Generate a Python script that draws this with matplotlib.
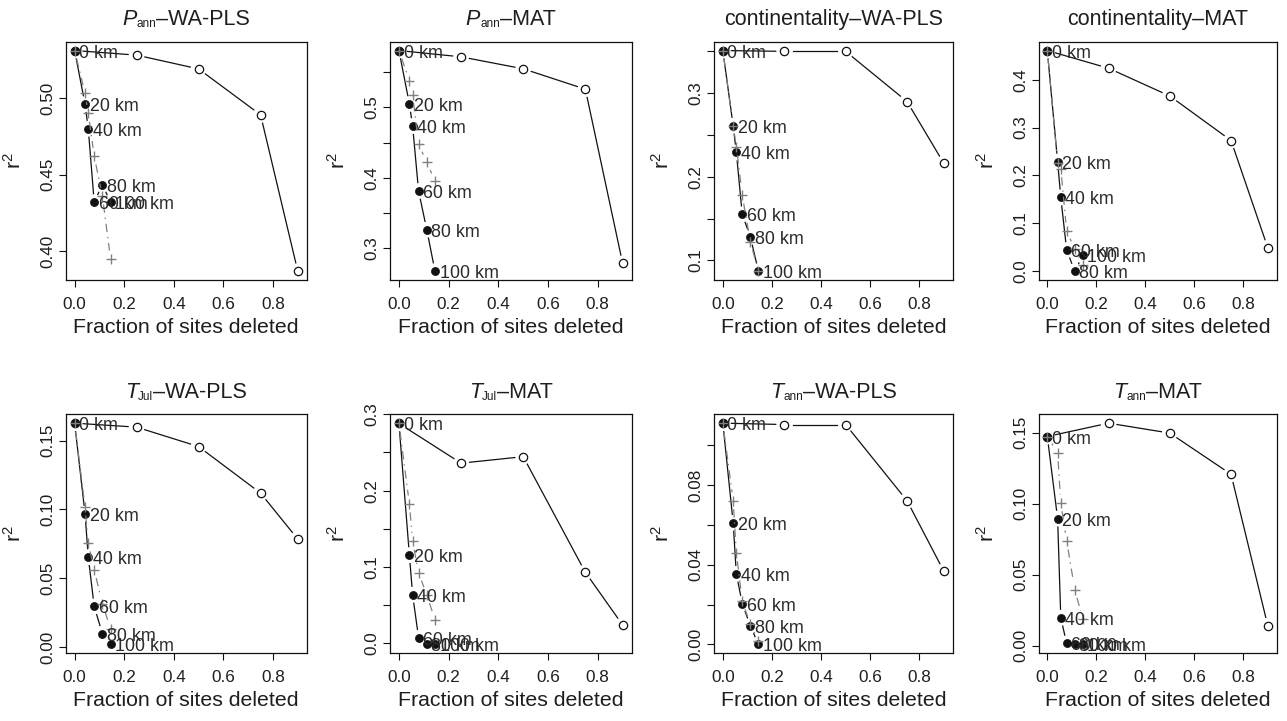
import numpy as np
import matplotlib
matplotlib.use("Agg")
import matplotlib.pyplot as plt

plt.rcParams['font.family'] = ['Liberation Sans', 'DejaVu Sans']
plt.rcParams['mathtext.fontset'] = 'custom'
plt.rcParams['mathtext.rm'] = 'Liberation Sans'
plt.rcParams['mathtext.it'] = 'Liberation Sans:italic'
plt.rcParams['lines.scale_dashes'] = False

# ---------------- data ----------------
fractions_random = [0.0, 0.25, 0.5, 0.75, 0.9]
fractions_dist = [0.0, 0.042, 0.055, 0.079, 0.112, 0.145]
dist_labels = ["0 km", "20 km", "40 km", "60 km", "80 km", "100 km"]

# titles: (italic variable, subscript, rest)
title_var = ["P", "P", "", "", "T", "T", "T", "T"]
title_sub = ["ann", "ann", "", "", "Jul", "Jul", "ann", "ann"]
title_rest = ["–WA-PLS", "–MAT", "continentality–WA-PLS", "continentality–MAT",
              "–WA-PLS", "–MAT", "–WA-PLS", "–MAT"]

r2_random = [
    [0.531, 0.528, 0.519, 0.489, 0.387],
    [0.581, 0.572, 0.555, 0.526, 0.278],
    [0.351, 0.350, 0.350, 0.290, 0.216],
    [0.461, 0.424, 0.366, 0.273, 0.049],
    [0.1626, 0.1597, 0.1456, 0.1118, 0.0784],
    [0.288, 0.236, 0.2445, 0.093, 0.024],
    [0.111, 0.1103, 0.1103, 0.0721, 0.0367],
    [0.1474, 0.1568, 0.1498, 0.1208, 0.0142],
]

r2_geographic = [
    [0.531, 0.496, 0.480, 0.432, 0.4435, 0.432],
    [0.581, 0.505, 0.4735, 0.381, 0.326, 0.267],
    [0.351, 0.261, 0.229, 0.155, 0.128, 0.087],
    [0.461, 0.229, 0.154, 0.044, 0.0, 0.033],
    [0.1626, 0.0968, 0.0653, 0.0295, 0.0097, 0.0019],
    [0.288, 0.1155, 0.0636, 0.0073, -0.001, -0.0015],
    [0.111, 0.061, 0.0354, 0.0205, 0.0093, 0.0],
    [0.1474, 0.0896, 0.0198, 0.0017, 0.001, 0.0015],
]

r2_environmental = [
    [0.531, 0.503, 0.490, 0.462, 0.436, 0.395],
    [0.581, 0.538, 0.518, 0.448, 0.422, 0.395],
    [0.351, 0.261, 0.236, 0.178, 0.122, 0.087],
    [0.461, 0.226, 0.214, 0.084, 0.046, 0.013],
    [0.1626, 0.1016, 0.0755, 0.0561, 0.0314, 0.0133],
    [0.288, 0.1826, 0.1335, 0.0925, 0.063, 0.031],
    [0.111, 0.0721, 0.046, 0.0216, 0.0101, 0.0017],
    [0.1474, 0.136, 0.1007, 0.0738, 0.0396, 0.0189],
]

x_ticks = [0.0, 0.2, 0.4, 0.6, 0.8]
x_ticklabels = ["0.0", "0.2", "0.4", "0.6", "0.8"]

y_ticks = [
    [0.40, 0.45, 0.50],
    [0.30, 0.35, 0.40, 0.45, 0.50, 0.55],
    [0.10, 0.15, 0.20, 0.25, 0.30, 0.35],
    [0.0, 0.1, 0.2, 0.3, 0.4],
    [0.00, 0.05, 0.10, 0.15],
    [0.0, 0.05, 0.1, 0.15, 0.2, 0.25, 0.3],
    [0.00, 0.02, 0.04, 0.06, 0.08, 0.10],
    [0.00, 0.05, 0.10, 0.15],
]
y_ticklabels = [
    ["0.40", "0.45", "0.50"],
    ["0.3", "", "0.4", "", "0.5", ""],
    ["0.1", "", "0.2", "", "0.3", ""],
    ["0.0", "0.1", "0.2", "0.3", "0.4"],
    ["0.00", "0.05", "0.10", "0.15"],
    ["0.0", "", "0.1", "", "0.2", "", "0.3"],
    ["0.00", "", "0.04", "", "0.08", ""],
    ["0.00", "0.05", "0.10", "0.15"],
]

# ---------------- layout / style ----------------
W, H = 1287, 721
col_left = [65.7, 390.0, 714.0, 1038.5]
col_right = [306.7, 631.6, 952.7, 1276.6]
row_top = [41.7, 414.3]
row_bottom = [280.0, 653.3]

TXT = "#1e1e1e"
BLACK = "#111111"
GREY = "#808080"
GAP = 8.5  # px gap around points (R type="b")
TITLE_FS = 15.5
SUB_FS = 8.5

fig = plt.figure(figsize=(W / 100, H / 100), dpi=100)
renderer = fig.canvas.get_renderer()


def r_limits(vals):
    lo, hi = min(vals), max(vals)
    pad = 0.04 * (hi - lo)
    return lo - pad, hi + pad


def gapped_line(ax, x, y, gap, **kw):
    pts = ax.transData.transform(np.column_stack([x, y]))
    inv = ax.transData.inverted()
    for p0, p1 in zip(pts[:-1], pts[1:]):
        d = p1 - p0
        L = np.hypot(d[0], d[1])
        if L <= 2 * gap:
            continue
        u = d / L
        seg = inv.transform(np.vstack([p0 + u * gap, p1 - u * gap]))
        ax.plot(seg[:, 0], seg[:, 1], **kw)


def composite_title(cx, baseline, var, sub, rest):
    """Place title pieces (italic var, small subscript, rest) centred at cx (px)."""
    pieces = []
    if var:
        pieces.append((var, dict(fontsize=TITLE_FS, style="italic"), 0.0))
    if sub:
        pieces.append((sub, dict(fontsize=SUB_FS), -2.0))
    pieces.append((rest, dict(fontsize=TITLE_FS), 0.0))
    texts, widths = [], []
    for s, kw, dy in pieces:
        t = fig.text(0, 0, s, color=TXT, ha="left", va="baseline", **kw)
        widths.append(t.get_window_extent(renderer).width)
        texts.append((t, dy))
    total = sum(widths)
    x = cx - total / 2
    for (t, dy), w in zip(texts, widths):
        t.set_position((x / W, 1 - (baseline - dy) / H))
        x += w


for i in range(8):
    r, c = divmod(i, 4)
    l, rr = col_left[c], col_right[c]
    t, b = row_top[r], row_bottom[r]
    ax = fig.add_axes([l / W, 1 - b / H, (rr - l) / W, (b - t) / H])

    xs_all = fractions_random + fractions_dist + fractions_dist
    ys_all = r2_random[i] + r2_geographic[i] + r2_environmental[i]
    ax.set_xlim(*r_limits(xs_all))
    ax.set_ylim(*r_limits(ys_all))

    # random deletion
    gapped_line(ax, fractions_random, r2_random[i], GAP, color=BLACK, lw=0.9)
    ax.plot(fractions_random, r2_random[i], ls="none", marker="o", ms=6.0,
            mfc="none", mec=BLACK, mew=0.9)

    # geographic deletion
    gapped_line(ax, fractions_dist, r2_geographic[i], GAP, color=BLACK, lw=0.9)
    ax.plot(fractions_dist, r2_geographic[i], ls="none", marker="o", ms=5.8,
            mfc=BLACK, mec=BLACK, mew=0.5)
    for xv, yv, lab in zip(fractions_dist, r2_geographic[i], dist_labels):
        ax.annotate(lab, (xv, yv), xytext=(3.3, -1.8), textcoords="offset points",
                    ha="left", va="center", fontsize=12.9, color="#2a2a2a")

    # environmental deletion
    gapped_line(ax, fractions_dist, r2_environmental[i], GAP, color=GREY, lw=0.9,
                dashes=[6.0, 3.5, 1.0, 3.5])
    ax.plot(fractions_dist, r2_environmental[i], ls="none", marker="+", ms=7.5,
            mec=GREY, mew=1.0)

    ax.set_xticks(x_ticks, x_ticklabels)
    ax.set_yticks(y_ticks[i], y_ticklabels[i])
    ax.tick_params(axis="both", direction="out", length=5, width=0.8,
                   labelsize=12.3, colors=BLACK, labelcolor=TXT)
    ax.tick_params(axis="x", pad=7)
    ax.tick_params(axis="y", pad=2.5, labelrotation=90)
    for lbl in ax.get_yticklabels():
        lbl.set_va("center")
    for s in ax.spines.values():
        s.set_linewidth(0.9)
        s.set_color(BLACK)

    composite_title((l + rr) / 2, t - 16.5, title_var[i], title_sub[i], title_rest[i])
    ax.set_xlabel("Fraction of sites deleted", fontsize=15.3, color=TXT, va="center")
    ax.xaxis.set_label_coords(0.5, -47.0 / (b - t))
    ax.set_ylabel(r"$\mathrm{r}^{2}$", fontsize=15.3, color=TXT, va="center")
    ax.yaxis.set_label_coords(-52.0 / (rr - l), 0.5)

fig.savefig("out.png", dpi=100)
